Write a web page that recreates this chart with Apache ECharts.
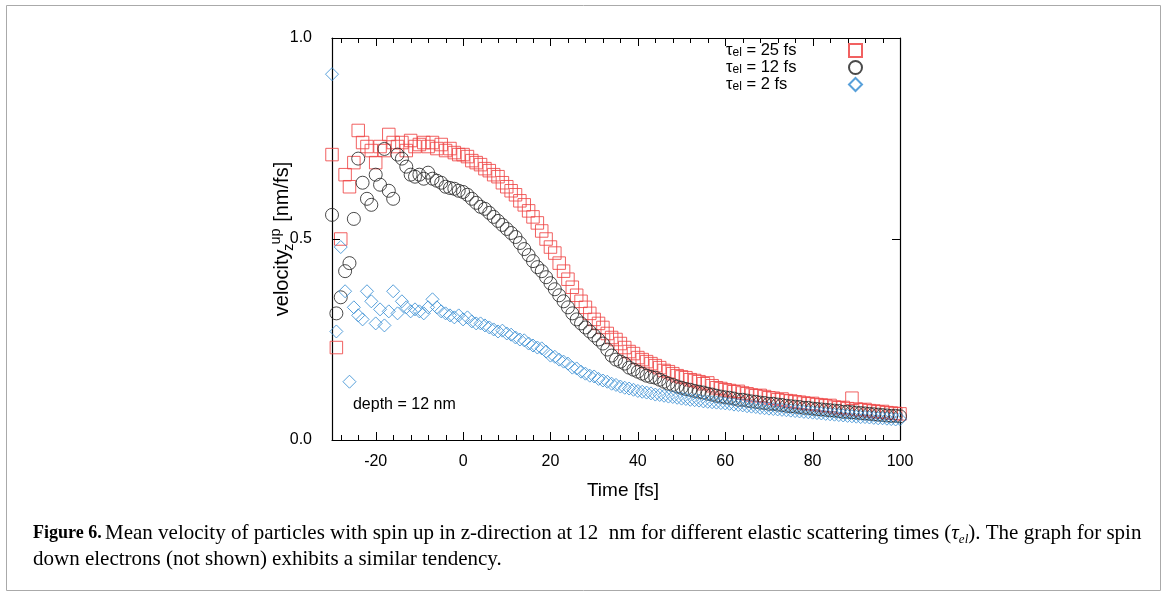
<!DOCTYPE html>
<html><head><meta charset="utf-8">
<script src="https://cdn.jsdelivr.net/npm/echarts@6/dist/echarts.min.js"></script>
<style>html,body{margin:0;padding:0;background:#fff}#c{width:1168px;height:596px}</style>
</head><body><div id="c"></div>
<script>
const times = [-30,-29,-28,-27,-26,-25,-24,-23,-22,-21,-20,-19,-18,-17,-16,-15,-14,-13,-12,-11,-10,-9,-8,-7,-6,-5,-4,-3,-2,-1,
0,1,2,3,4,5,6,7,8,9,10,11,12,13,14,15,16,17,18,19,20,21,22,23,24,25,26,27,28,29,30,31,32,33,34,35,36,37,38,39,
40,41,42,43,44,45,46,47,48,49,50,51,52,53,54,55,56,57,58,59,60,61,62,63,64,65,66,67,68,69,70,71,72,73,74,75,76,77,78,79,
80,81,82,83,84,85,86,87,88,89,90,91,92,93,94,95,96,97,98,99,100];

const tau25 = [0.71,0.23,0.50,0.66,0.63,0.69,0.77,0.74,0.73,0.72,
0.69,0.73,0.72,0.76,0.74,0.73,0.74,0.72,0.745,0.73,
0.735,0.74,0.73,0.74,0.725,0.735,0.72,0.725,0.715,0.71,
0.71,0.705,0.695,0.69,0.685,0.675,0.67,0.66,0.655,0.64,
0.63,0.62,0.61,0.595,0.585,0.57,0.555,0.54,0.52,0.50,
0.48,0.465,0.44,0.42,0.40,0.38,0.36,0.345,0.33,0.315,
0.30,0.29,0.28,0.265,0.255,0.25,0.24,0.23,0.22,0.215,
0.205,0.20,0.195,0.19,0.185,0.18,0.173,0.17,0.165,0.16,
0.157,0.155,0.15,0.148,0.145,0.14,0.142,0.135,0.13,0.128,
0.125,0.123,0.12,0.121,0.117,0.115,0.112,0.11,0.111,0.108,
0.105,0.104,0.10,0.102,0.098,0.097,0.095,0.094,0.092,0.09,
0.091,0.088,0.087,0.085,0.086,0.082,0.08,0.081,0.078,0.104,
0.077,0.075,0.076,0.073,0.072,0.07,0.071,0.068,0.067,0.066,0.065];

const tau12 = [0.56,0.315,0.355,0.42,0.44,0.55,0.70,0.64,0.60,0.585,
0.66,0.635,0.724,0.62,0.60,0.71,0.70,0.68,0.66,0.655,
0.66,0.65,0.665,0.65,0.645,0.64,0.63,0.627,0.625,0.62,
0.617,0.61,0.60,0.59,0.58,0.575,0.565,0.555,0.545,0.535,
0.525,0.515,0.505,0.49,0.475,0.46,0.445,0.43,0.42,0.405,
0.39,0.375,0.36,0.345,0.33,0.315,0.30,0.29,0.28,0.27,
0.26,0.25,0.24,0.225,0.21,0.20,0.195,0.19,0.18,0.175,
0.17,0.165,0.16,0.157,0.155,0.15,0.145,0.14,0.137,0.133,
0.13,0.127,0.125,0.122,0.12,0.118,0.115,0.113,0.11,0.108,
0.106,0.105,0.103,0.10,0.10,0.098,0.096,0.095,0.093,0.092,
0.09,0.09,0.088,0.087,0.085,0.084,0.083,0.082,0.08,0.08,
0.078,0.077,0.076,0.075,0.074,0.073,0.072,0.07,0.07,0.069,
0.068,0.067,0.066,0.065,0.064,0.063,0.062,0.061,0.06,0.06,0.059];

const tau2 = [0.91,0.27,0.48,0.37,0.145,0.33,0.31,0.30,0.37,0.345,
0.29,0.325,0.285,0.32,0.37,0.315,0.345,0.33,0.32,0.325,
0.32,0.315,0.33,0.35,0.33,0.32,0.315,0.31,0.305,0.31,
0.30,0.305,0.295,0.29,0.29,0.285,0.28,0.275,0.27,0.272,
0.265,0.262,0.255,0.25,0.248,0.24,0.235,0.23,0.228,0.22,
0.21,0.207,0.20,0.195,0.19,0.18,0.178,0.17,0.165,0.16,
0.158,0.152,0.148,0.145,0.14,0.137,0.133,0.13,0.128,0.125,
0.122,0.12,0.118,0.116,0.113,0.112,0.11,0.108,0.107,0.105,
0.103,0.102,0.10,0.099,0.098,0.096,0.095,0.094,0.093,0.092,
0.091,0.09,0.088,0.087,0.086,0.084,0.083,0.082,0.08,0.079,
0.078,0.077,0.076,0.075,0.074,0.073,0.072,0.071,0.07,0.069,
0.068,0.067,0.066,0.065,0.064,0.063,0.062,0.061,0.06,0.059,
0.058,0.057,0.057,0.056,0.055,0.054,0.054,0.053,0.052,0.051,0.052];

const xMajorTicks = [-20,0,20,40,60,80,100];
const xMinorTicks = [-28,-24,-16,-12,-8,-4,4,8,12,16,24,28,32,36,44,48,52,56,64,68,72,76,84,88,92,96];
const yTicks = [0,0.5,1];
const seriesNames = ['τel = 25 fs','τel = 12 fs','τel = 2 fs'];
const legendRest = [' = 25 fs',' = 12 fs',' = 2 fs'];

const X_MIN = -30, X_MAX = 100, Y_MIN = 0, Y_MAX = 1;
const FONT = 'Liberation Sans, Arial, sans-serif';
const LEG_MAIN = 16.5, LEG_SUB = 12, LEG_TEXT_W = 118;
const mctx = document.createElement('canvas').getContext('2d');
function tw(text, size){ mctx.font = size + 'px ' + FONT; return mctx.measureText(text).width; }

const legendRich = {
  t:{fontSize:LEG_MAIN, fontFamily:FONT, color:'#000', lineHeight:16},
  s:{fontSize:LEG_SUB, fontFamily:FONT, color:'#000', verticalAlign:'bottom', padding:[4,0,0,0], lineHeight:12}
};
seriesNames.forEach((n,i)=>{
  const w = tw('τ',LEG_MAIN) + tw('el',LEG_SUB) + tw(legendRest[i],LEG_MAIN);
  legendRich['p'+i] = {width: Math.max(1, LEG_TEXT_W - w), fontSize:LEG_MAIN, lineHeight:16};
});
function legendFmt(name){
  const i = seriesNames.indexOf(name);
  return '{t|τ}{s|el}{t|' + legendRest[i] + '}{p' + i + '| }';
}

const chart = echarts.init(document.getElementById('c'), null, {renderer:'canvas'});
function pairs(arr){ return times.map((t,i)=>[t, arr[i]]); }

const axisLineStyle = {color:'#000', width:1.2};
const xAxes = [
  {type:'value', min:X_MIN, max:X_MAX, position:'bottom',
   axisLine:{show:true, onZero:false, lineStyle:axisLineStyle},
   axisTick:{show:false},
   axisLabel:{show:true, customValues:xMajorTicks, margin:14, fontSize:16, color:'#000', fontFamily:FONT},
   splitLine:{show:false},
   name:'Time [fs]', nameLocation:'middle', nameGap:41,
   nameTextStyle:{fontSize:19, color:'#000', fontFamily:FONT, padding:[0,0,0,14]}},
  {type:'value', min:X_MIN, max:X_MAX, position:'top',
   axisLine:{show:true, onZero:false, lineStyle:axisLineStyle},
   axisTick:{show:false}, axisLabel:{show:false}, splitLine:{show:false}}
];
const yAxes = [
  {type:'value', min:Y_MIN, max:Y_MAX, interval:0.5, position:'left',
   axisLine:{show:true, onZero:false, lineStyle:axisLineStyle},
   axisTick:{show:false},
   axisLabel:{show:true, margin:20, fontSize:16, color:'#000', fontFamily:FONT, formatter:v=>v.toFixed(1)},
   splitLine:{show:false},
   name:'{n|velocity}{s|z}{p|up}{n| [nm/fs]}', nameLocation:'middle', nameGap:36, nameRotate:90,
   nameMoveOverlap:false,
   nameTextStyle:{color:'#000', fontFamily:FONT, fontSize:20,
     rich:{
       n:{fontSize:20, fontFamily:FONT, color:'#000'},
       s:{fontSize:14.5, fontFamily:FONT, color:'#000', verticalAlign:'bottom', padding:[11,0,0,0], width:5},
       p:{fontSize:14.5, fontFamily:FONT, color:'#000', verticalAlign:'top', padding:[0,1,13,0]}
     }}},
  {type:'value', min:Y_MIN, max:Y_MAX, interval:0.5, position:'right',
   axisLine:{show:true, onZero:false, lineStyle:axisLineStyle},
   axisTick:{show:false}, axisLabel:{show:false}, splitLine:{show:false}}
];

const red = '#ee4545', blk = '#2a2a2a', blu = '#3b8fd3';
function sc(name, data, symbol, size, color){
  return {
    name, type:'scatter', data: pairs(data), symbol, symbolSize:size,
    xAxisIndex:0, yAxisIndex:0,
    itemStyle:{color:'rgba(0,0,0,0)', borderColor:color, borderWidth:1, opacity:0.85},
    emphasis:{disabled:true}, animation:false
  };
}
// tick marks drawn inward on all four frame sides through the axis scales
function tickSeries(values, isX, len){
  return {
    type:'custom', silent:true, xAxisIndex:0, yAxisIndex:0, z:5, clip:false,
    data: values.map(v => isX ? [v, Y_MIN] : [X_MIN, v]),
    renderItem: function(params, api){
      const v = isX ? api.value(0) : api.value(1);
      const style = {stroke:'#000', lineWidth:1};
      if (isX) {
        const b = api.coord([v, Y_MIN]), t = api.coord([v, Y_MAX]);
        const x = Math.round(b[0]) + 0.5;
        return {type:'group', children:[
          {type:'line', shape:{x1:x, y1:b[1], x2:x, y2:b[1]-len}, style},
          {type:'line', shape:{x1:x, y1:t[1], x2:x, y2:t[1]+len}, style}
        ]};
      } else {
        const l = api.coord([X_MIN, v]), r = api.coord([X_MAX, v]);
        const y = Math.round(l[1]) + 0.5;
        return {type:'group', children:[
          {type:'line', shape:{x1:l[0], y1:y, x2:l[0]+len, y2:y}, style},
          {type:'line', shape:{x1:r[0], y1:y, x2:r[0]-len, y2:y}, style}
        ]};
      }
    }
  };
}

chart.setOption({
  backgroundColor:'#fff',
  animation:false,
  grid:{left:332, right:268, top:38, bottom:156, containLabel:false},
  xAxis:xAxes,
  yAxis:yAxes,
  legend:{
    orient:'vertical', left:726, top:42, itemGap:0, align:'right',
    itemWidth:13, itemHeight:13, padding:0,
    data: seriesNames,
    formatter: legendFmt,
    textStyle:{fontSize:LEG_MAIN, color:'#000', fontFamily:FONT, rich:legendRich},
    selectedMode:false
  },
  series:[
    sc(seriesNames[0], tau25, 'rect', 12.5, red),
    sc(seriesNames[1], tau12, 'circle', 13, blk),
    sc(seriesNames[2], tau2, 'diamond', 13, blu),
    tickSeries(xMajorTicks, true, 8),
    tickSeries(xMinorTicks, true, 5),
    tickSeries(yTicks, false, 8)
  ]
});

const dp = chart.convertToPixel({xAxisIndex:0, yAxisIndex:0}, [-25.2, 0.087]);
chart.setOption({
  graphic:[
    {type:'rect', shape:{x:6.5, y:5.5, width:1154, height:585}, style:{fill:'none', stroke:'#aaa', lineWidth:1}, silent:true, z:-1},
    {type:'text', x:dp[0], y:dp[1], style:{text:'depth = 12 nm', font:'16px ' + FONT, fill:'#000', textVerticalAlign:'middle'}},
    {type:'text', x:33, y:520, style:{
      text:'{b|Figure 6.} {r|Mean velocity of particles with spin up in z-direction at 12  nm for different elastic scattering times (}{i|τ}{is|el}{r|). The graph for spin}\n{r|down electrons (not shown) exhibits a similar tendency.}',
      lineHeight:26,
      rich:{
        b:{font:'bold 18px Liberation Serif, serif', fill:'#000', lineHeight:26},
        r:{font:'21px Liberation Serif, serif', fill:'#000', lineHeight:26},
        i:{font:'italic 21px Liberation Serif, serif', fill:'#000', lineHeight:26},
        is:{font:'italic 13px Liberation Serif, serif', fill:'#000', lineHeight:26, verticalAlign:'bottom', padding:[7,0,0,0]}
      }
    }}
  ]
});
</script>
</body></html>
